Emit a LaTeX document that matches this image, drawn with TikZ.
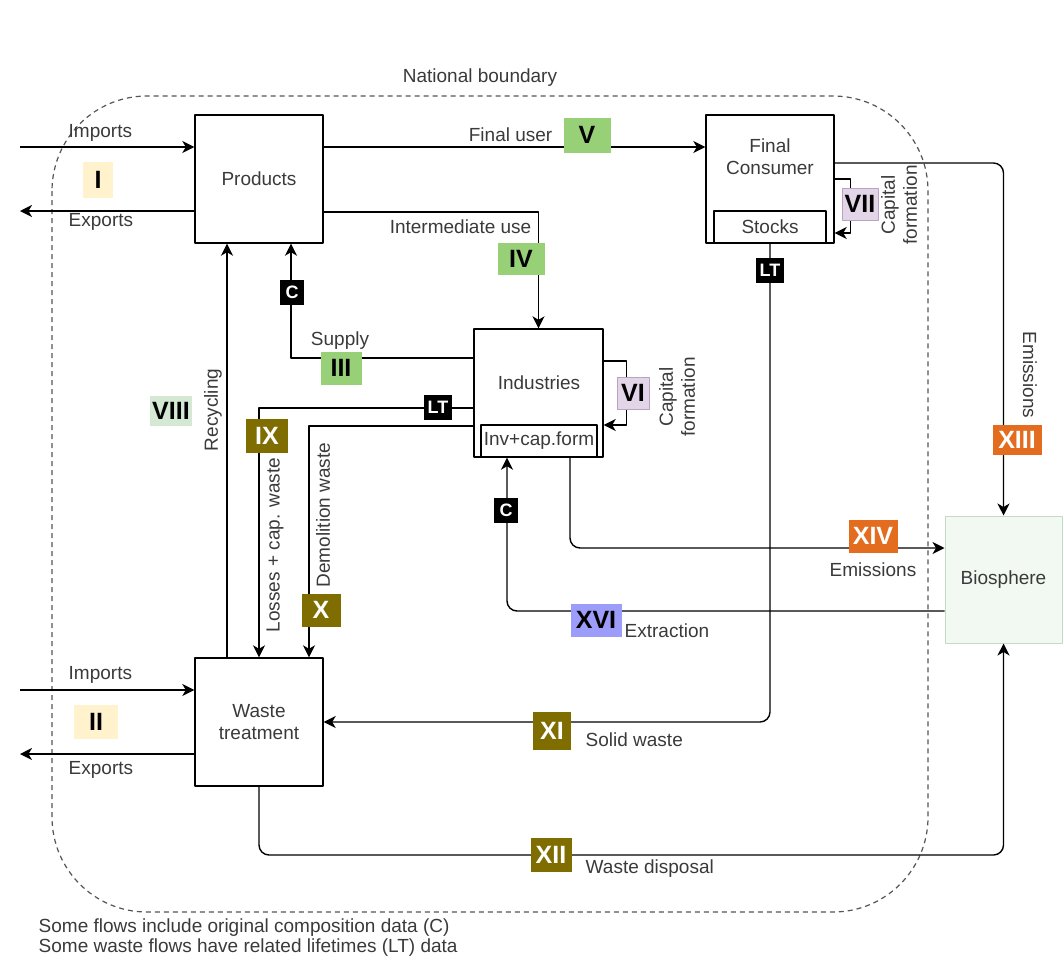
\documentclass[tikz,border=0pt]{standalone}
\usepackage{fontspec}
\setmainfont{Liberation Sans}
\usetikzlibrary{arrows.meta}
\definecolor{txtgray}{HTML}{3A3A3A}
\definecolor{bndgray}{HTML}{555555}
\definecolor{tagyellow}{HTML}{FFF2CC}
\definecolor{taggreen}{HTML}{97D077}
\definecolor{tagpale}{HTML}{D5E8D4}
\definecolor{taglav}{HTML}{E1D5E7}
\definecolor{lavedge}{HTML}{B8A3C4}
\definecolor{tagolive}{HTML}{7F6D00}
\definecolor{tagorange}{HTML}{E36C1E}
\definecolor{tagblue}{HTML}{9C9CFA}
\definecolor{biofill}{HTML}{F2F9F2}
\definecolor{bioedge}{HTML}{C4DAC4}
\tikzset{
  proc/.style={draw=black, line width=1.4pt, minimum width=128pt, minimum height=128pt, align=center, inner sep=0pt},
  subbox/.style={draw=black, line width=1.4pt, minimum height=32pt, inner sep=0pt},
  tag/.style={font=\fontsize{25}{26}\selectfont\bfseries, inner sep=0pt, minimum height=33pt, text=black},
  darktag/.style={tag, text=white},
  key/.style={fill=black, text=white, font=\fontsize{18}{18}\selectfont\bfseries, minimum width=24pt, minimum height=25pt, inner sep=0pt},
  lbl/.style={inner sep=0pt},
}
\begin{document}
\begin{tikzpicture}[x=1pt, y=-1pt, >={Stealth[length=12pt,width=12pt,inset=3.5pt]}, line join=round, line width=1.4pt, text=txtgray, font=\fontsize{19}{22}\selectfont]
\useasboundingbox (0,0) rectangle (1064,969);
\draw[bndgray, line width=1.2pt, dash pattern=on 5pt off 4pt, rounded corners=95pt] (52,96) rectangle (928,912);
\node[lbl] (natl) at (480,78) {National boundary};

\node[proc] (prod) at (259,179) {Products};
\node[proc] (fcons) at (770,179) {};
\node[lbl, align=center] (fconsTxt) at (770,157) {Final\\Consumer};
\node[subbox, minimum width=112pt] (stocks) at (770,227) {Stocks};
\node[proc, minimum width=129pt] (ind) at (538.5,393) {};
\node[lbl] (indTxt) at (539,383) {Industries};
\node[subbox, minimum width=116pt] (inv) at (539,441) {Inv+cap.form};
\node[proc] (waste) at (259,722) {Waste\\treatment};
\node[proc, draw=bioedge, fill=biofill, line width=1pt, minimum width=117pt, minimum height=127pt] (bio) at (1003.5,579.5) {Biosphere};

\coordinate (impP) at (20,147);
\coordinate (expP) at (20,211);
\draw[->] (impP) -- (impP -| prod.west);
\draw[->] (expP -| prod.west) -- (expP);
\node[lbl, anchor=west] at (68,133) {Imports};
\node[lbl, anchor=west] at (68,222) {Exports};
\node[tag, fill=tagyellow, minimum width=30pt, minimum height=36pt] (tI) at (98,180) {I};

\draw[->] ([yshift=32pt]prod.east) -- ([yshift=32pt]fcons.west);
\node[lbl, anchor=east] at (553,135) {Final user};
\node[tag, fill=taggreen, minimum width=47pt, minimum height=35pt] (tV) at (587,135) {V};

\draw[->] ([yshift=-33pt]prod.east) -| (ind.north);
\node[lbl, anchor=east] at (532,227) {Intermediate use};
\node[tag, fill=taggreen, minimum width=47pt, minimum height=32pt] (tIV) at (521,259) {IV};

\draw[->] (fcons.east) -- ++(16,0) |- ([yshift=-54pt]fcons.east);
\node[tag, fill=taglav, draw=lavedge, line width=0.8pt, minimum width=36pt, minimum height=32pt] (tVII) at (860,204) {VII};
\node[lbl, align=center, rotate=90] at (899,205) {Capital\\formation};

\draw[->, rounded corners=10pt] ([yshift=16pt]fcons.east) -| (bio.north);
\node[lbl, rotate=-90] at (1030,375) {Emissions};
\node[darktag, fill=tagorange, minimum width=49pt, minimum height=30pt] (tXIII) at (1017,440) {XIII};

\draw[->] ([yshift=32pt]ind.east) -- ++(23,0) |- ([yshift=-32pt]ind.east);
\node[tag, fill=taglav, draw=lavedge, line width=0.8pt, minimum width=32pt, minimum height=32pt] (tVI) at (633,393) {VI};
\node[lbl, align=center, rotate=90] at (677,397) {Capital\\formation};

\draw[->] ([yshift=35pt]ind.west) -| ([xshift=32pt]prod.south);
\node[key] (cSup) at (292,292) {C};
\node[lbl] at (340,341) {Supply};
\node[tag, fill=taggreen, minimum width=41pt, minimum height=33pt] (tIII) at (341,368) {III};

\draw[->] ([xshift=-32pt]waste.north) -- ([xshift=-32pt]prod.south);
\node[lbl, rotate=90] at (213,410) {Recycling};
\node[tag, fill=tagpale, minimum width=42pt, minimum height=30pt] (tVIII) at (171,411) {VIII};

\draw[->] ([yshift=-15pt]ind.west) -| (waste.north);
\node[key, minimum width=28pt] (ltInd) at (438,407) {LT};
\node[darktag, fill=tagolive, minimum width=42pt, minimum height=34pt] (tIX) at (267,436) {IX};
\node[lbl, rotate=90] at (275,545) {Losses + cap. waste};

\draw[->] ([yshift=-33pt]ind.west) -| ([xshift=50pt]waste.north);
\node[lbl, rotate=90] at (323,515) {Demolition waste};
\node[darktag, fill=tagolive, minimum width=39pt, minimum height=33pt] (tX) at (321,610) {X};

\draw[->, rounded corners=10pt] ([yshift=-31.5pt]bio.west) -| ([xshift=-32pt]inv.south);
\node[key] (cExt) at (506,510) {C};
\node[tag, fill=tagblue, minimum width=51pt, minimum height=33pt] (tXVI) at (596,620) {XVI};
\node[lbl, anchor=west] at (624,631) {Extraction};

\draw[->, rounded corners=10pt] ([xshift=31pt]inv.south) |- ([yshift=31.5pt]bio.west);
\node[darktag, fill=tagorange, minimum width=49pt, minimum height=33pt] (tXIV) at (873,536) {XIV};
\node[lbl] at (873,570) {Emissions};

\draw[->, rounded corners=10pt] (stocks.south) |- (waste.east);
\node[key, minimum width=28pt] (ltSto) at (770,270) {LT};
\node[darktag, fill=tagolive, minimum width=38pt, minimum height=38pt] (tXI) at (552,731) {XI};
\node[lbl, anchor=west] at (585,740) {Solid waste};

\coordinate (impW) at (20,690);
\coordinate (expW) at (20,754);
\draw[->] (impW) -- (impW -| waste.west);
\draw[->] (expW -| waste.west) -- (expW);
\node[lbl, anchor=west] at (68,675) {Imports};
\node[lbl, anchor=west] at (68,770) {Exports};
\node[tag, fill=tagyellow, minimum width=44pt, minimum height=34pt] (tII) at (96,722) {II};

\coordinate (dispY) at (600,855);
\draw[->, rounded corners=10pt] (waste.south) |- (dispY -| bio.south) -- (bio.south);
\node[darktag, fill=tagolive, minimum width=41pt, minimum height=34pt] (tXII) at (551,855) {XII};
\node[lbl, anchor=west] at (585,869) {Waste disposal};

\node[lbl, anchor=west, align=left, font=\fontsize{19}{20}\selectfont] (note) at (38,938) {Some flows include original composition data (C)\\Some waste flows have related lifetimes (LT) data};
\end{tikzpicture}
\end{document}
